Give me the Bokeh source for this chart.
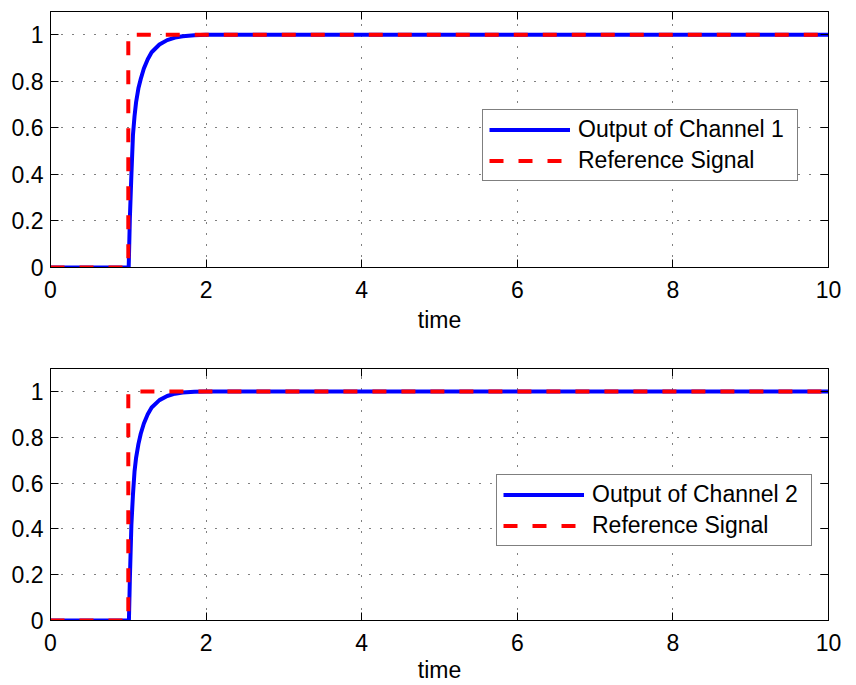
from bokeh.plotting import figure
from bokeh.layouts import column
from bokeh.models import (LinearAxis, FixedTicker, Legend, LegendItem,
                          ColumnDataSource, Range1d)
from bokeh.embed import file_html
from bokeh.resources import INLINE

# ---------------- data ----------------
x_ticks = [0, 2, 4, 6, 8, 10]
x_tick_labels = ["0", "2", "4", "6", "8", "10"]
y_ticks = [0, 0.2, 0.4, 0.6, 0.8, 1.0]
y_tick_labels = ["0", "0.2", "0.4", "0.6", "0.8", "1"]
x_label = "time"

ref_time = [0, 1.0, 1.0, 10]
ref_signal = [0, 0, 1, 1]

out1_time = [0, 1.005, 1.02, 1.04, 1.06, 1.08, 1.10, 1.13, 1.16, 1.20,
             1.25, 1.30, 1.40, 1.50, 1.60, 1.70, 1.85, 2.0, 10]
out1_value = [0, 0, 0.21, 0.40, 0.57, 0.65, 0.71, 0.77, 0.81, 0.855,
              0.895, 0.925, 0.958, 0.977, 0.988, 0.994, 0.998, 1.0, 1.0]

out2_time = [0, 1.008, 1.02, 1.04, 1.06, 1.08, 1.10, 1.13, 1.16, 1.20,
             1.25, 1.30, 1.40, 1.50, 1.60, 1.70, 1.85, 2.0, 10]
out2_value = [0, 0, 0.18, 0.42, 0.55, 0.65, 0.71, 0.77, 0.815, 0.86,
              0.90, 0.93, 0.962, 0.98, 0.99, 0.995, 0.999, 1.0, 1.0]

legend1_labels = ["Output of Channel 1", "Reference Signal"]
legend2_labels = ["Output of Channel 2", "Reference Signal"]

FONT = "Liberation Sans"


def make_panel(out_t, out_v, labels, height, b_top, b_bottom, legend_loc,
               tick_standoff, label_standoff):
    p = figure(width=848, height=height, x_range=Range1d(0, 10),
               y_range=Range1d(0, 1.1), output_backend="svg",
               toolbar_location=None, min_border_left=50, min_border_right=20,
               min_border_top=b_top, min_border_bottom=b_bottom)
    p.background_fill_color = "white"
    p.border_fill_color = "white"
    p.outline_line_color = "black"
    p.outline_line_width = 1

    # main axes
    p.xaxis.ticker = FixedTicker(ticks=x_ticks)
    p.xaxis.major_label_overrides = dict(zip(x_ticks, x_tick_labels))
    p.yaxis.ticker = FixedTicker(ticks=y_ticks)
    p.yaxis.major_label_overrides = dict(zip(y_ticks, y_tick_labels))
    for ax in (p.xaxis[0], p.yaxis[0]):
        ax.major_tick_in = 8
        ax.major_tick_out = 0
        ax.minor_tick_line_color = None
        ax.axis_line_color = "black"
        ax.major_tick_line_color = "black"
        ax.major_label_text_font = FONT
        ax.major_label_text_font_size = "23px"
        ax.major_label_text_color = "black"
    p.yaxis.major_label_standoff = 7
    p.xaxis.major_label_standoff = tick_standoff
    p.xaxis.axis_label = x_label
    p.xaxis.axis_label_text_font = FONT
    p.xaxis.axis_label_text_font_size = "23px"
    p.xaxis.axis_label_text_font_style = "normal"
    p.xaxis.axis_label_text_color = "black"
    p.xaxis.axis_label_standoff = label_standoff

    # box ticks on top and right (no labels)
    top = LinearAxis(ticker=FixedTicker(ticks=x_ticks),
                     major_label_text_color=None,
                     major_label_text_font_size="0px", major_label_standoff=0,
                     major_tick_in=8, major_tick_out=0,
                     minor_tick_line_color=None, axis_line_color="black")
    right = LinearAxis(ticker=FixedTicker(ticks=y_ticks),
                       major_label_text_color=None,
                       major_label_text_font_size="0px", major_label_standoff=0,
                       major_tick_in=8, major_tick_out=0,
                       minor_tick_line_color=None, axis_line_color="black")
    p.add_layout(top, "above")
    p.add_layout(right, "right")

    # grid
    p.xgrid.ticker = FixedTicker(ticks=x_ticks)
    p.ygrid.ticker = FixedTicker(ticks=y_ticks)
    for g in (p.xgrid[0], p.ygrid[0]):
        g.grid_line_color = "black"
        g.grid_line_dash = "1 10"
        g.grid_line_width = 1

    out_src = ColumnDataSource(dict(t=out_t, v=out_v))
    ref_src = ColumnDataSource(dict(t=ref_time, v=ref_signal))
    r_out = p.line("t", "v", source=out_src, line_color="#0000ff",
                   line_width=4)
    r_ref = p.line("t", "v", source=ref_src, line_color="#ff0000",
                   line_width=4, line_dash="14 15")

    legend = Legend(items=[LegendItem(label=labels[0], renderers=[r_out]),
                           LegendItem(label=labels[1], renderers=[r_ref])],
                    location=legend_loc, margin=0, padding=6, spacing=4,
                    glyph_width=81, glyph_height=25, label_height=25,
                    label_width=213,
                    label_standoff=8, label_text_font=FONT,
                    label_text_font_size="23px", label_text_color="black",
                    border_line_color="black", border_line_width=1,
                    background_fill_color="white", background_fill_alpha=1)
    p.add_layout(legend, "center")
    return p


p1 = make_panel(out1_time, out1_value, legend1_labels, 337, 11, 70,
                (432, 86), 13, 6)
p2 = make_panel(out2_time, out2_value, legend2_labels, 348, 31, 61,
                (446, 74), 13, 3)

layout = column(p1, p2, spacing=0)
open("out.html", "w").write(file_html(layout, INLINE))
